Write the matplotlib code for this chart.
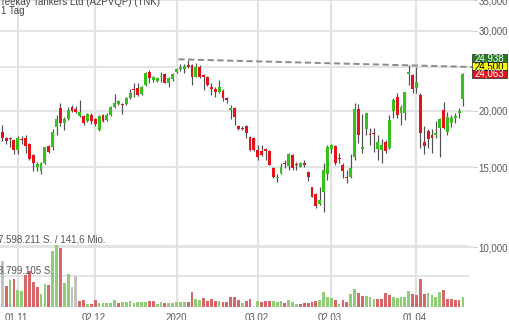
import numpy as np
import matplotlib
matplotlib.use("Agg")
import matplotlib.pyplot as plt
from matplotlib.patches import Rectangle
from matplotlib.ticker import FixedLocator, NullLocator

# daily candles, EUR
price_open = [17.97, 17.37, 17.43, 17.22, 16.37, 17.34, 17.37, 16.85, 15.96, 15.05, 14.74, 15.30, 16.73, 16.65,
              18.36, 20.22, 18.74, 19.12, 20.32, 20.15, 19.45, 19.48, 19.00, 19.55, 19.12, 18.12, 19.55, 19.06,
              19.55, 20.32, 20.67, 20.67, 20.67, 21.27, 22.26, 22.38, 21.74, 22.72, 24.35, 23.34, 23.26, 23.66,
              24.06, 22.95, 23.42, 24.35, 24.72, 24.64, 25.19, 25.19, 23.74, 24.98, 23.94, 23.66, 22.49, 22.30,
              22.00, 22.11, 21.27, 20.05, 20.22, 18.49, 18.33, 18.49, 17.46, 17.37, 16.37, 16.29, 16.45, 16.32,
              14.92, 14.18, 14.55, 15.30, 15.10, 15.96, 15.25, 15.05, 15.30, 14.67, 13.55, 13.10, 12.45, 13.25,
              14.50, 16.43, 16.71, 15.75, 15.17, 14.30, 14.25, 15.77, 20.12, 16.48, 18.18, 17.75, 17.87, 16.48,
              16.37, 17.05, 16.51, 19.98, 21.45, 19.78, 19.78, 24.06, 23.94, 22.38, 21.63, 17.02, 18.03, 17.66,
              17.63, 18.27, 20.05, 17.97, 18.74, 19.22, 19.78, 21.16]
price_high = [18.58, 17.46, 17.52, 17.28, 17.58, 17.58, 17.66, 16.93, 16.04, 15.43, 15.43, 16.65, 16.79, 18.18,
              19.55, 20.81, 19.38, 20.39, 20.57, 20.46, 21.09, 19.55, 19.78, 19.71, 19.22, 19.55, 19.65, 19.71,
              20.46, 21.74, 21.09, 20.74, 21.45, 22.26, 22.95, 22.95, 22.64, 24.31, 24.56, 23.82, 23.74, 24.35,
              24.15, 23.74, 24.15, 24.77, 25.32, 25.32, 25.83, 25.32, 25.40, 25.19, 24.06, 23.82, 22.95, 22.57,
              23.34, 22.26, 21.45, 20.57, 20.39, 18.58, 18.49, 18.58, 17.58, 17.46, 16.79, 16.79, 16.51, 16.37,
              14.99, 14.50, 15.30, 15.56, 16.15, 16.04, 15.43, 15.43, 15.56, 14.74, 13.59, 13.14, 13.59, 15.30,
              16.79, 16.85, 16.79, 16.10, 15.30, 14.79, 16.04, 20.74, 20.67, 19.65, 19.78, 18.27, 18.27, 17.66,
              17.28, 17.22, 19.55, 21.27, 21.89, 20.57, 22.00, 25.19, 24.06, 24.98, 21.89, 18.49, 18.18, 18.18,
              19.00, 19.22, 20.92, 19.88, 19.55, 19.71, 20.22, 24.15]
price_low = [17.16, 16.88, 16.65, 16.02, 16.02, 16.88, 16.10, 15.56, 14.74, 14.74, 14.50, 15.25, 16.10, 16.37,
             17.66, 18.49, 18.12, 19.06, 19.88, 19.71, 19.38, 18.58, 18.87, 18.68, 18.49, 18.03, 18.90, 19.00,
             19.45, 20.22, 20.57, 19.65, 20.57, 21.16, 21.45, 21.53, 21.63, 22.64, 22.95, 23.15,
             23.15, 23.15, 22.95, 22.49, 23.26, 24.23, 24.47, 24.23, 24.77, 22.76, 23.66, 23.54, 22.19, 22.64,
             21.63, 21.45, 21.82, 21.02, 20.74, 19.12, 18.58, 18.12, 18.12, 17.37, 16.32, 16.32, 15.56, 15.88,
             15.56, 15.17, 14.18, 13.94, 14.50, 14.92, 14.79, 14.79, 14.79, 14.99, 15.05, 14.01,
             12.88, 12.18, 12.39, 11.98, 14.06, 16.10, 15.17, 15.30, 14.18, 13.83, 14.18, 15.56, 16.93, 16.10,
             17.66, 16.79, 16.23, 15.56, 15.35, 16.10, 16.43, 19.22, 19.22, 18.58, 19.06, 22.76, 21.82, 21.82,
             16.51, 16.04, 16.51, 16.10, 17.37, 15.83, 18.18, 17.66, 18.43, 18.74, 19.22, 20.46]
price_close = [17.37, 17.16, 17.28, 16.37, 17.37, 17.22, 16.71, 15.61, 15.30, 15.25, 15.35, 16.59, 16.23, 17.97,
               19.12, 18.80, 19.19, 20.05, 19.95, 19.82, 19.82, 18.74, 19.65, 18.96, 18.65, 19.45, 19.00, 19.55,
               20.32, 20.74, 21.02, 20.57, 21.27, 21.89, 22.19, 21.63, 22.57, 24.23, 23.54, 23.66, 23.54, 23.82,
               23.03, 23.54, 24.06, 24.64, 24.98, 25.06, 24.98, 23.74, 24.98, 23.74, 23.74, 22.76, 22.30, 22.00,
               22.49, 21.27, 21.09, 20.22, 19.38, 18.18, 18.18, 17.87, 16.37, 16.37, 15.77, 15.96, 16.32, 15.17,
               14.25, 14.30, 14.99, 15.22, 16.04, 14.92, 15.15, 15.35, 15.17, 14.30, 12.92, 12.33, 12.71, 14.79,
               16.65, 16.79, 15.35, 15.61, 14.74, 14.23, 14.92, 20.12, 17.66, 16.59, 19.71, 17.63, 17.72, 17.05,
               16.79, 16.32, 19.06, 21.09, 19.55, 20.32, 21.97, 24.35, 22.26, 23.11, 17.87, 16.73, 17.28, 17.37,
               17.81, 19.12, 18.27, 19.38, 19.22, 19.48, 19.95, 24.06]

# volume in thousand shares, and bar tint (g = up, r = down, n = unchanged)
volume_k = [5668, 2546, 3286, 3491, 2054, 1971, 3902, 4395, 3080, 2464, 1561, 2875, 2752, 6900, 7598, 7187,
            2957, 3984, 2464, 3778, 739, 821, 329, 329, 862, 534, 534, 534, 534, 862, 493, 616, 657, 698,
            493, 616, 657, 657, 780, 698, 329, 575, 452, 534, 452, 616, 657, 616, 575, 1848, 945, 862, 1150,
            739, 986, 780, 698, 657, 657, 1191, 1191, 862, 493, 780, 1027, 82, 698, 657, 698, 698, 698, 657,
            739, 534, 821, 575, 411, 411, 493, 534, 616, 698, 821, 1848, 1232, 1150, 821, 329, 821, 616,
            1561, 2259, 1725, 1314, 1314, 1232, 1027, 945, 945, 1766, 1437, 1232, 1109, 1273, 1273, 2012,
            1561, 1478, 3409, 1561, 1684, 1520, 1232, 1848, 2054, 1027, 986, 904, 821, 1191]
volume_dir = list("nrgrggrrrrggrggrggnnrrgrrgggggrgggggggrrggrgggggrrggrrrrgrrrrrgrrngrrrgggrgggrrrrrgggg"
                  "rgrrggrrgggrrrrgggggrrrrggggrrrrrg")
volume_max = 7598211

tick_pos = [4, 24, 45, 66, 85, 107]
tick_lab = ["01.11.", "02.12.", "2020", "03.02.", "02.03.", "01.04."]
grid_prices = [10, 15, 20, 25, 30, 35]
label_prices = [10, 15, 20, 30, 35]
last_quotes = ["24,938", "24,500", "24,063"]
trend_x = [45.5, 121.6]
trend_y = [25.93, 24.94]

FONT = "Liberation Sans"
GREEN, RED = "#36c01c", "#e3121b"
VOL_COL = {"g": "#8fcd78", "r": "#d8676b", "n": "#c2c2c2"}
XLIM = (-0.6, 121.6)

fig = plt.figure(figsize=(5.1, 3.2), dpi=100)
ax = fig.add_axes([0, 13 / 320, 473 / 510, 307 / 320])
ax.set_yscale("log")
ax.set_ylim(7.39, 35.02)
ax.set_xlim(*XLIM)
for s in ax.spines.values():
    s.set_visible(False)
ax.patch.set_alpha(0)

for p in grid_prices:
    ax.axhline(p, color="#dcdcdc", lw=1.1, zorder=0)
for x in tick_pos:
    ax.axvline(x, color="#e2e2e2", lw=1.5, zorder=0)

o = np.array(price_open)
c = np.array(price_close)
xs = np.arange(len(o))
ax.vlines(xs, price_low, price_high, color="#505050", lw=0.85, zorder=2)
lo = np.minimum(o, c)
hi = np.maximum(o, c)
ax.bar(xs, hi - lo, bottom=lo, width=0.75, lw=0, zorder=3,
       color=[GREEN if cc >= oo else RED for oo, cc in zip(o, c)])

ax.plot(trend_x, trend_y, color="#8c8c8c", lw=1.4, ls=(0, (3.2, 1.8)), zorder=4)

ax.yaxis.tick_right()
ax.yaxis.set_major_locator(FixedLocator(label_prices))
ax.yaxis.set_minor_locator(NullLocator())
ax.set_yticklabels([f"{v:.3f}".replace(".", ",") for v in label_prices],
                   fontfamily=FONT, fontsize=7, color="#5a5a5a")
ax.tick_params(axis="y", length=3, color="#cccccc", pad=1)
ax.set_xticks(tick_pos)
ax.set_xticklabels(tick_lab, fontfamily=FONT, fontsize=7, color="#5a5a5a")
ax.tick_params(axis="x", length=0, pad=4)

# volume panel
axv = fig.add_axes([0, 13 / 320, 473 / 510, 62 / 320])
axv.set_xlim(*XLIM)
axv.set_ylim(0, volume_max)
axv.axis("off")
axv.hlines([volume_max, volume_max / 2], XLIM[0], 120.5, color="#dddddd", lw=1.1, zorder=0)
axv.bar(np.arange(len(volume_k)), np.array(volume_k) * 1000, width=0.72,
        color=[VOL_COL[d] for d in volume_dir], lw=0, zorder=2)
axv.text(-1.0, volume_max, "7.598.211 S. / 141,6 Mio.", fontfamily=FONT, fontsize=7,
         color="#555555", va="bottom", ha="left", zorder=3)
axv.text(-1.0, volume_max / 2, "3.799.105 S.", fontfamily=FONT, fontsize=7,
         color="#555555", va="bottom", ha="left", zorder=3)

fig.text(0, 1 - 2 / 320, "Teekay Tankers Ltd (A2PVQP) (TNK)", fontfamily=FONT, fontsize=7,
         color="#444444", va="center", ha="left")
fig.text(1 / 510, 1 - 11 / 320, "1 Tag", fontfamily=FONT, fontsize=7,
         color="#444444", va="center", ha="left")

# last quote boxes on the right edge
box_cols = ["#237a23", "#ffff00", "#e3121b"]
txt_cols = ["white", "black", "white"]
tops = [54.3, 62.3, 70.0]
for lab, bc, tc, t in zip(last_quotes, box_cols, txt_cols, tops):
    fig.patches.append(Rectangle((472 / 510, 1 - (t + 7.8) / 320), 35 / 510, 7.8 / 320,
                                 transform=fig.transFigure, facecolor=bc, edgecolor="#222222",
                                 lw=0.5, zorder=5))
    fig.text(489.5 / 510, 1 - (t + 3.9) / 320, lab, fontfamily=FONT, fontsize=7, color=tc,
             ha="center", va="center", zorder=6)

fig.savefig("out.png", dpi=100)
